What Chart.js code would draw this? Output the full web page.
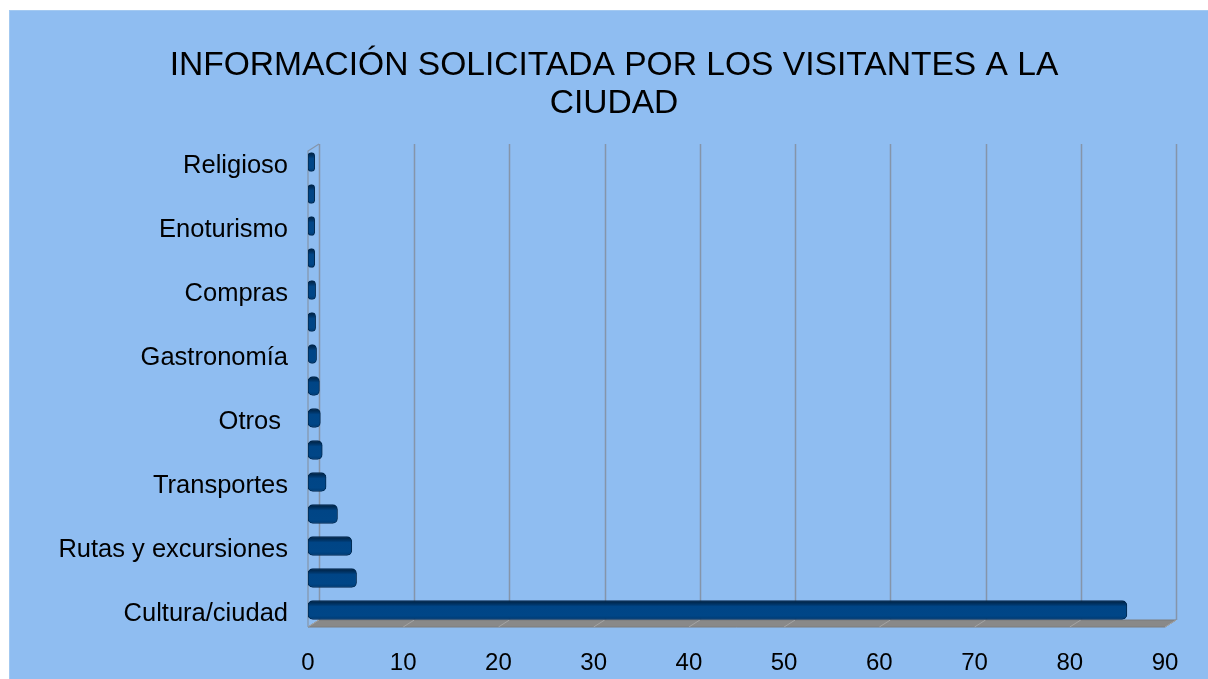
<!DOCTYPE html>
<html><head><meta charset="utf-8">
<script src="https://cdn.jsdelivr.net/npm/chart.js@4/dist/chart.umd.min.js"></script>
<style>html,body{margin:0;padding:0;background:#fff;overflow:hidden}canvas{display:block}</style>
</head><body>
<canvas id="c" width="1208" height="679"></canvas>
<script>
const categories = ['Religioso','','Enoturismo','','Compras','','Gastronomía','','Otros ','','Transportes','','Rutas y excursiones','','Cultura/ciudad'];
const values = [0.7,0.7,0.7,0.7,0.8,0.8,0.9,1.2,1.3,1.5,1.9,3.1,4.6,5.1,86];
const xTicks = [0,10,20,30,40,50,60,70,80,90];
const titleLines = ['INFORMACIÓN SOLICITADA POR LOS VISITANTES A LA','CIUDAD'];

const FONT = "'Liberation Sans', Arial, sans-serif";
const DX = 11, DY = -7;

const scene = {
  id: 'scene',
  afterLayout(chart) {
    const t = chart.titleBlock;
    if (t) { t.left += 31.5; t.right += 31.5; }
  },
  beforeDraw(chart) {
    const ctx = chart.ctx;
    ctx.save();
    ctx.fillStyle = '#ffffff';
    ctx.fillRect(0, 0, chart.width, chart.height);
    ctx.fillStyle = '#8fbdf1';
    ctx.fillRect(9, 10, chart.width - 9, chart.height - 10);
    ctx.fillStyle = '#a3c9f1';
    ctx.fillRect(9, 10, chart.width - 9, 1);
    ctx.fillRect(9, 10, 1, chart.height - 10);
    ctx.restore();
  },
  beforeDatasetsDraw(chart) {
    const ctx = chart.ctx, xs = chart.scales.x;
    const {top, bottom} = chart.chartArea;
    const x0 = xs.getPixelForValue(xTicks[0]);
    const xN = xs.getPixelForValue(xTicks[xTicks.length - 1]);
    const fy = bottom + 1, by = fy + DY;
    ctx.save();
    // floor
    ctx.beginPath();
    ctx.moveTo(x0, fy); ctx.lineTo(xN, fy); ctx.lineTo(xN + DX, by); ctx.lineTo(x0 + DX, by); ctx.closePath();
    ctx.fillStyle = '#898989'; ctx.fill();
    ctx.strokeStyle = '#7d7d7d'; ctx.lineWidth = 1; ctx.stroke();
    // floor diagonals
    ctx.strokeStyle = '#a4a4a4';
    xTicks.forEach(v => {
      const x = xs.getPixelForValue(v);
      ctx.beginPath(); ctx.moveTo(x, fy); ctx.lineTo(x + DX, by); ctx.stroke();
    });
    // back grid lines
    ctx.strokeStyle = '#8595aa'; ctx.lineWidth = 1.5;
    xTicks.forEach(v => {
      const x = Math.round(xs.getPixelForValue(v) + DX) + 0.5;
      ctx.beginPath(); ctx.moveTo(x, top - 2); ctx.lineTo(x, by); ctx.stroke();
    });
    // left wall
    ctx.lineWidth = 1.2;
    ctx.beginPath();
    ctx.moveTo(x0, fy); ctx.lineTo(x0, top + 5); ctx.lineTo(x0 + DX, top - 2);
    ctx.stroke();
    ctx.restore();
  }
};

function barFill(c) {
  const chart = c.chart;
  if (!chart.chartArea) return '#004586';
  const y = chart.scales.y.getPixelForValue(c.dataIndex);
  const g = chart.ctx.createLinearGradient(0, y - 9.5, 0, y + 9.5);
  g.addColorStop(0, '#00203f');
  g.addColorStop(0.18, '#003263');
  g.addColorStop(0.32, '#004586');
  g.addColorStop(0.8, '#004687');
  g.addColorStop(1, '#003a72');
  return g;
}

new Chart(document.getElementById('c'), {
  type: 'bar',
  data: {
    labels: categories,
    datasets: [{
      data: values,
      backgroundColor: barFill,
      borderColor: '#00284f',
      borderWidth: 1,
      borderRadius: 5,
      borderSkipped: false,
      barThickness: 19
    }]
  },
  options: {
    indexAxis: 'y',
    responsive: false,
    animation: false,
    layout: { padding: { left: 0, right: 43, top: 0, bottom: 0 } },
    plugins: {
      legend: { display: false },
      tooltip: { enabled: false },
      title: {
        display: true,
        text: titleLines,
        color: '#000',
        font: { family: FONT, size: 33.6, weight: 'normal', lineHeight: 1.131 },
        padding: { top: 47, bottom: 23 }
      }
    },
    scales: {
      x: {
        type: 'linear', min: 0, max: 90,
        afterBuildTicks: s => { s.ticks = xTicks.map(v => ({value: v})); },
        afterFit: s => { s.height = 53; },
        ticks: { color: '#000', font: { family: FONT, size: 24 }, padding: 23, maxRotation: 0 },
        grid: { display: false, drawTicks: false },
        border: { display: false }
      },
      y: {
        afterFit: s => { s.width = 308; },
        ticks: { color: '#000', font: { family: FONT, size: 25.5 }, padding: 20, autoSkip: false, labelOffset: 4 },
        grid: { display: false, drawTicks: false },
        border: { display: false }
      }
    }
  },
  plugins: [scene]
});
</script>
</body></html>
